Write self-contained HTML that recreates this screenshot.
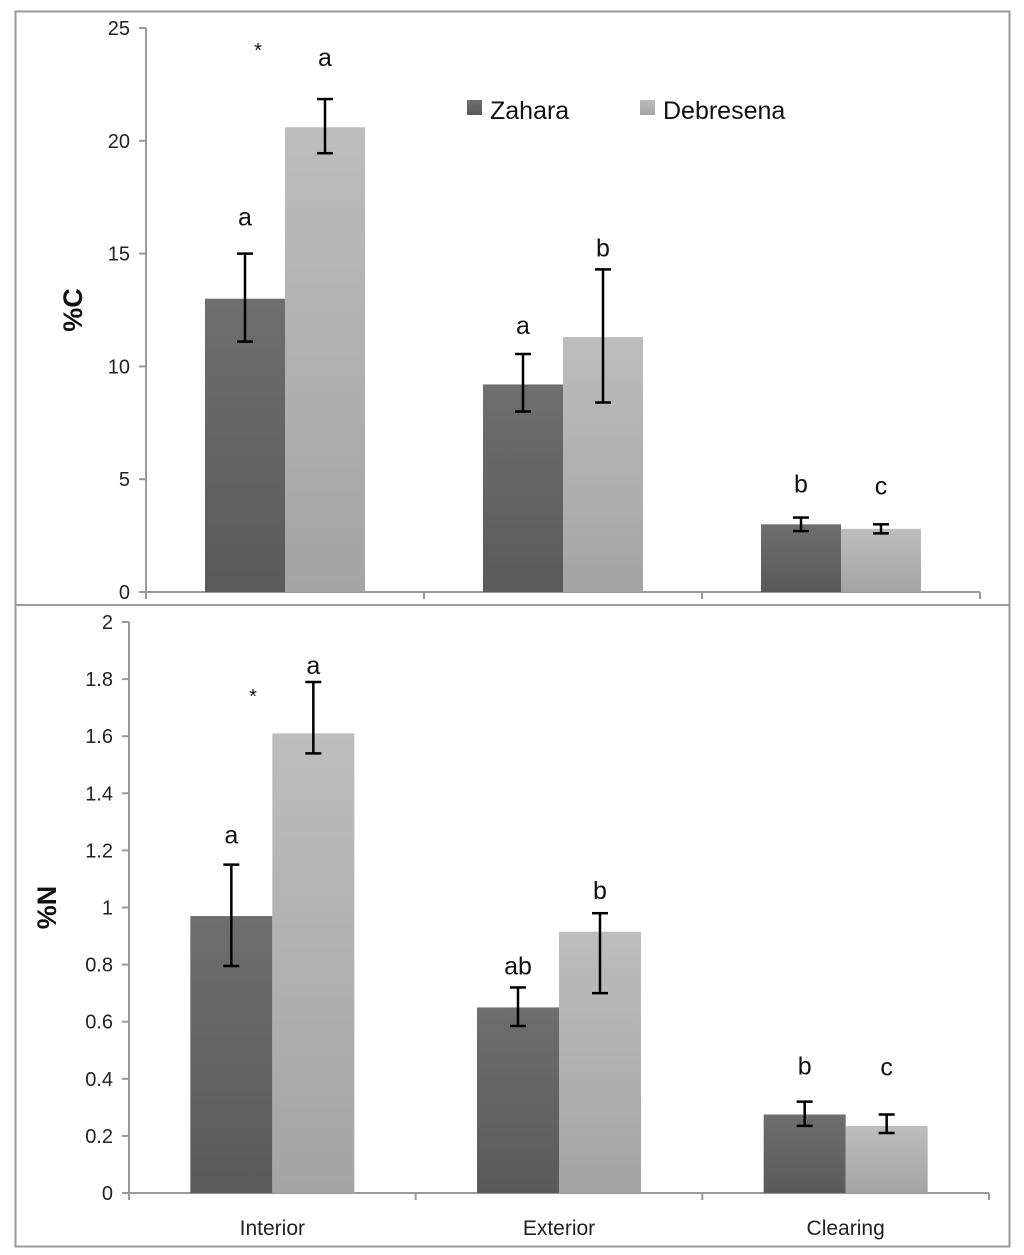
<!DOCTYPE html>
<html><head><meta charset="utf-8"><style>
body{margin:0;background:#fff}
svg{display:block;font-family:"Liberation Sans",sans-serif}
</style></head><body>
<svg id="chart" width="1024" height="1255" viewBox="0 0 1024 1255">
<defs>
<linearGradient id="gd" x1="0" y1="0" x2="0" y2="1"><stop offset="0" stop-color="#6e6e6e"/><stop offset="1" stop-color="#5a5a5a"/></linearGradient>
<linearGradient id="gl" x1="0" y1="0" x2="0" y2="1"><stop offset="0" stop-color="#bdbdbd"/><stop offset="1" stop-color="#a4a4a4"/></linearGradient>
</defs>
<rect x="15.5" y="11.5" width="994" height="1235" fill="none" stroke="#999" stroke-width="2"/>
<line x1="15" y1="605" x2="1010" y2="605" stroke="#999" stroke-width="2"/>
<g id="g"></g>
</svg>
<script>
const categories=["Interior","Exterior","Clearing"];
const series=["Zahara","Debresena"];
const cZahara=[13.0,9.2,3.0];
const cZaharaHi=[15.0,10.55,3.3];
const cZaharaLo=[11.1,8.0,2.7];
const cDeb=[20.6,11.3,2.8];
const cDebHi=[21.85,14.3,3.0];
const cDebLo=[19.45,8.4,2.6];
const nZahara=[0.97,0.65,0.275];
const nZaharaHi=[1.15,0.72,0.32];
const nZaharaLo=[0.795,0.585,0.235];
const nDeb=[1.61,0.915,0.235];
const nDebHi=[1.79,0.98,0.275];
const nDebLo=[1.54,0.70,0.21];
const cTicks=["0","5","10","15","20","25"];
const nTicks=["0","0.2","0.4","0.6","0.8","1","1.2","1.4","1.6","1.8","2"];
const cLetters=[["a","a"],["a","b"],["b","c"]];
const nLetters=[["a","a"],["ab","b"],["b","c"]];
const cGaps=[[28,33],[20,13],[25,30]];
const nGaps=[[21,8],[13,14],[27,39]];

const NS="http://www.w3.org/2000/svg";
const G=document.getElementById('g');
function mk(t,a,p){const e=document.createElementNS(NS,t);for(const k in a)e.setAttribute(k,a[k]);(p||G).appendChild(e);return e;}

function panel(o){
  const y=v=>o.y0-(v/o.max)*(o.y0-o.yTop);
  const catW=(o.x1-o.x0)/3;
  const ax=mk('line',{x1:o.x0,y1:o.yTop,x2:o.x0,y2:o.y0,stroke:'#999','stroke-width':2});
  
  
  o.ticks.forEach(t=>{
    const v=parseFloat(t),yy=y(v);
    mk('line',{x1:o.x0-7,y1:yy,x2:o.x0,y2:yy,stroke:'#999','stroke-width':2});
    const tx=mk('text',{x:o.x0-16,y:yy+7,'text-anchor':'end','font-size':20,fill:'#222'});
    tx.textContent=t;
    
    
  });
  const xa=mk('line',{x1:o.x0,y1:o.y0,x2:o.x1,y2:o.y0,stroke:'#999','stroke-width':2});
  
  
  for(let i=0;i<=3;i++){mk('line',{x1:o.x0+i*catW,y1:o.y0,x2:o.x0+i*catW,y2:o.y0+7,stroke:'#999','stroke-width':2});}
  const yt=mk('text',{x:0,y:0,'font-size':27,'font-weight':'bold',fill:'#111','text-anchor':'middle',transform:`translate(${o.titleX},${(o.yTop+o.y0)/2}) rotate(-90)`});
  yt.textContent=o.title;
  
  
  const sets=[[o.z,o.zh,o.zl,'url(#gd)'],[o.d,o.dh,o.dl,'url(#gl)']];
  categories.forEach((c,i)=>{
    const cx=o.x0+catW*(i+0.5);
    sets.forEach((s,j)=>{
      const bx=cx-o.bw+j*o.bw, top=y(s[0][i]);
      const r=mk('rect',{x:bx,y:top,width:o.bw,height:o.y0-top,fill:s[3]});
      
      
      const mx=bx+o.bw/2,yh=y(s[1][i]),yl=y(s[2][i]);
      const eg=mk('g',{stroke:'#000','stroke-width':2.5});
      
      
      mk('line',{x1:mx,y1:yh,x2:mx,y2:yl},eg);
      mk('line',{x1:mx-8,y1:yh,x2:mx+8,y2:yh},eg);
      mk('line',{x1:mx-8,y1:yl,x2:mx+8,y2:yl},eg);
      const lt=mk('text',{x:mx,y:yh-o.gaps[i][j],'text-anchor':'middle','font-size':25,fill:'#111'});
      lt.textContent=o.letters[i][j];
      
      
    });
    if(o.showX){
      const xl=mk('text',{x:cx,y:o.y0+42,'text-anchor':'middle','font-size':21,fill:'#222'});
      xl.textContent=c;
      
      
    }
  });
  const st=mk('text',{x:o.starX,y:o.starY,'text-anchor':'middle','font-size':20,fill:'#111'});
  st.textContent='*';
  
  
}
panel({id:'carbon',x0:146,x1:980,yTop:28,y0:592,max:25,bw:80,ticks:cTicks,title:'%C',titleX:82,
  z:cZahara,zh:cZaharaHi,zl:cZaharaLo,d:cDeb,dh:cDebHi,dl:cDebLo,letters:cLetters,gaps:cGaps,showX:false,starX:258,starY:57});
panel({id:'nitrogen',x0:129,x1:989,yTop:622,y0:1193,max:2,bw:82,ticks:nTicks,title:'%N',titleX:56,
  z:nZahara,zh:nZaharaHi,zl:nZaharaLo,d:nDeb,dh:nDebHi,dl:nDebLo,letters:nLetters,gaps:nGaps,showX:true,starX:253,starY:703});
// legend
const lg=mk('g',{});


const l1=mk('rect',{x:467,y:100,width:15,height:15,fill:'url(#gd)'},lg);


const t1=mk('text',{x:490,y:119,'font-size':25,fill:'#111'},lg);t1.textContent='Zahara';


const l2=mk('rect',{x:640,y:100,width:15,height:15,fill:'url(#gl)'},lg);


const t2=mk('text',{x:663,y:119,'font-size':25,fill:'#111'},lg);t2.textContent='Debresena';


</script>
</body></html>
